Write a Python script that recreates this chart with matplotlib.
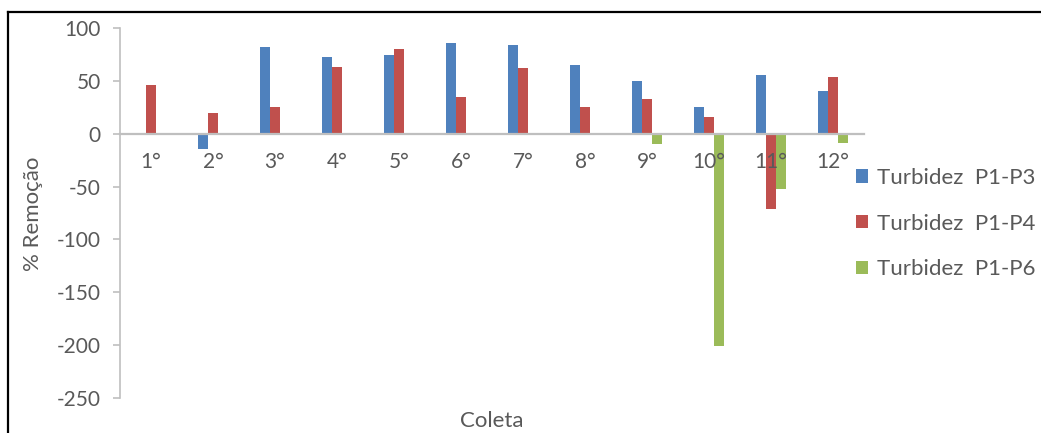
import matplotlib
matplotlib.use("Agg")
import matplotlib.pyplot as plt
from matplotlib.lines import Line2D
import numpy as np

# Collection rounds and % removal of turbidity for each point pair
categories = ["1°", "2°", "3°", "4°", "5°", "6°", "7°", "8°", "9°", "10°", "11°", "12°"]
p1_p3 = [0, -14, 82, 73, 75, 86, 84, 65, 50, 25, 56, 41]
p1_p4 = [46, 20, 25, 63, 80, 35, 62, 25, 33, 16, -71, 54]
p1_p6 = [0, 0, 0, 0, 0, 0, 0, 0, -10, -201, -52, -9]
series_names = ["Turbidez  P1-P3", "Turbidez  P1-P4", "Turbidez  P1-P6"]
yticks = [100, 50, 0, -50, -100, -150, -200, -250]

colors = ["#4F81BD", "#C0504D", "#9BBB59"]
text_color = "#595959"
axis_color = "#BFBFBF"

plt.rcParams["font.family"] = ["Lato", "DejaVu Sans"]
FS = 15

W, H = 1041, 433
fig = plt.figure(figsize=(W / 100, H / 100), dpi=100)
fig.patch.set_facecolor("white")

left, right = 120 / W, 864 / W
top, bottom = 1 - 28.3 / H, 1 - 397.7 / H
ax = fig.add_axes([left, bottom, right - left, top - bottom])

x = np.arange(len(categories))
bw = 10 / 62
handles = []
for i, (vals, c, name) in enumerate(zip([p1_p3, p1_p4, p1_p6], colors, series_names)):
    b = ax.bar(x + (i - 1) * bw, vals, width=bw, color=c, label=name, zorder=1)
    handles.append(b)

ax.set_xlim(-0.5, len(categories) - 0.5)
ax.set_ylim(-250, 100)

# Category axis sits on the zero line; its labels are drawn over the bars
for s in ["top", "right"]:
    ax.spines[s].set_visible(False)
ax.spines["bottom"].set_position(("data", 0))
ax.spines["bottom"].set_color(axis_color)
ax.spines["bottom"].set_linewidth(1.6)
ax.spines["bottom"].set_zorder(3)
ax.spines["left"].set_color(axis_color)
ax.spines["left"].set_linewidth(1.2)
ax.xaxis.set_zorder(4)

ax.set_xticks(x)
ax.set_xticklabels(categories)
ax.tick_params(axis="x", length=0, pad=13, labelsize=FS, labelcolor=text_color)
ax.set_yticks(yticks)
ax.set_yticklabels([str(v) for v in yticks])
ax.tick_params(axis="y", direction="out", length=5, width=1.2, color=axis_color,
               pad=9, labelsize=FS, labelcolor=text_color)

fig.text(33 / W, 1 - 214 / H, "% Remoção", rotation=90, ha="center", va="center",
         fontsize=FS + 1, color=text_color)
fig.text(492 / W, 1 - 421 / H, "Coleta", ha="center", va="center",
         fontsize=FS + 1, color=text_color)

leg = fig.legend(handles=handles, labels=series_names, loc="upper left",
                 bbox_to_anchor=(856 / W, 1 - 168 / H), frameon=False,
                 fontsize=FS + 1, handlelength=0.55, handleheight=0.55,
                 handletextpad=0.4, labelspacing=1.15, borderaxespad=0,
                 borderpad=0)
for t in leg.get_texts():
    t.set_color(text_color)

# Outer frame: left and top edges
fig.add_artist(Line2D([8 / W, 8 / W], [0, 1 - 12 / H], transform=fig.transFigure,
                      color="black", linewidth=1.6))
fig.add_artist(Line2D([8 / W, 1], [1 - 12 / H, 1 - 12 / H], transform=fig.transFigure,
                      color="black", linewidth=1.6))

fig.savefig("out.png", dpi=100, facecolor="white")
